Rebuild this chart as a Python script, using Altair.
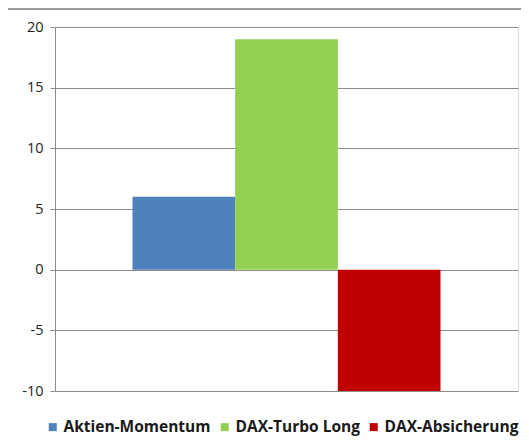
import altair as alt
import pandas as pd

series = ["Aktien-Momentum", "DAX-Turbo Long", "DAX-Absicherung"]
values = [6, 19, -10]
colors = ["#4F81BD", "#92D050", "#C00000"]
y_ticks = [-10, -5, 0, 5, 10, 15, 20]

df = pd.DataFrame({"series": series, "value": values})

W, H = 463, 364

bars = alt.Chart(df).mark_bar().encode(
    x=alt.X("series:N", sort=series, title=None,
            scale=alt.Scale(domain=series, paddingInner=0, paddingOuter=0.755),
            axis=None),
    y=alt.Y("value:Q", title=None,
            scale=alt.Scale(domain=[-10, 20], nice=False, zero=False),
            axis=alt.Axis(values=y_ticks, grid=True, gridColor="#8c8c8c", gridWidth=1,
                          domain=True, domainColor="#8c8c8c", tickColor="#8c8c8c",
                          tickSize=5, labelPadding=7, labelFont="Open Sans", labelFontSize=14.5,
                          labelColor="#222222", labelExpr="toString(datum.value)")),
    color=alt.Color("series:N", sort=series,
                    scale=alt.Scale(domain=series, range=colors),
                    legend=alt.Legend(title=None, orient="none", direction="horizontal",
                                      legendX=-10, legendY=392, symbolType="square",
                                      symbolSize=64, symbolStrokeWidth=0,
                                      labelFont="Open Sans", labelFontSize=15.5, labelFontWeight="bold",
                                      labelColor="#1a1a1a", labelLimit=300,
                                      columnPadding=6, symbolOffset=0, labelOffset=3)),
)

frame_top = alt.Chart(df).mark_rule(color="#8c8c8c", strokeWidth=1).encode(
    x=alt.value(-48), x2=alt.value(480), y=alt.value(-18))
frame_left = alt.Chart(df).mark_rule(color="#8c8c8c", strokeWidth=1).encode(
    x=alt.value(-48), y=alt.value(-18), y2=alt.value(430))

chart = alt.layer(bars, frame_top, frame_left).properties(
    width=W, height=H,
    padding={"left": 47, "top": 19, "right": 3, "bottom": 46},
    autosize=alt.AutoSizeParams(type="none"),
).configure_view(stroke=None).configure(background="white")

chart.save("out.html", embed_options={"renderer": "svg", "actions": False})
